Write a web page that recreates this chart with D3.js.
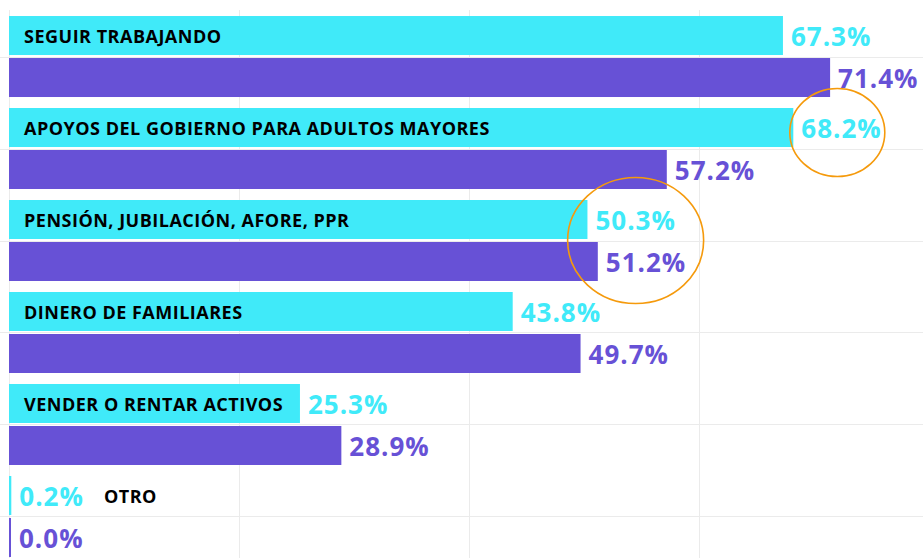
<!DOCTYPE html>
<html>
<head>
<meta charset="utf-8">
<script src="https://cdn.jsdelivr.net/npm/d3@7"></script>
<style>
  body { margin: 0; background: #fff; }
  svg { display: block; font-family: "Open Sans", "Noto Sans", sans-serif; }
</style>
</head>
<body>
<div id="chart"></div>
<script>
// data
var categories = [
    "SEGUIR TRABAJANDO",
    "APOYOS DEL GOBIERNO PARA ADULTOS MAYORES",
    "PENSIÓN, JUBILACIÓN, AFORE, PPR",
    "DINERO DE FAMILIARES",
    "VENDER O RENTAR ACTIVOS",
    "OTRO"
];
var seriesA = [67.3, 68.2, 50.3, 43.8, 25.3, 0.2];   // cyan
var seriesB = [71.4, 57.2, 51.2, 49.7, 28.9, 0.0];   // purple
var gridTicks = [0, 20, 40, 60, 80];
// categories whose value labels got circled
var circled = [
    { cat: "APOYOS DEL GOBIERNO PARA ADULTOS MAYORES", both: false },
    { cat: "PENSIÓN, JUBILACIÓN, AFORE, PPR", both: true }
];

var width = 923, height = 558;
var colA = "#40eaf9", colB = "#6751d6";

var svg = d3.select("#chart").append("svg")
    .attr("width", width).attr("height", height);

var x = d3.scaleLinear().domain([0, 80]).range([9, 929]);
var y0 = d3.scaleBand().domain(categories).range([10.5, 562.5])
    .paddingInner(0.1196).paddingOuter(0.06);
var y1 = d3.scaleBand().domain(["a", "b"]).range([0, y0.bandwidth()]).paddingInner(0.0714);

// grid
svg.selectAll("line.vgrid").data(gridTicks).enter().append("line")
    .attr("class", "vgrid")
    .attr("x1", function (d) { return Math.round(x(d)) + 0.5; })
    .attr("x2", function (d) { return Math.round(x(d)) + 0.5; })
    .attr("y1", 10).attr("y2", height)
    .attr("stroke", "#ebebeb").attr("stroke-width", 1);
svg.selectAll("line.hgrid").data(categories).enter().append("line")
    .attr("class", "hgrid")
    .attr("x1", 0).attr("x2", width)
    .attr("y1", function (d) { return Math.round(y0(d) + y0.bandwidth() / 2) + 0.5; })
    .attr("y2", function (d) { return Math.round(y0(d) + y0.bandwidth() / 2) + 0.5; })
    .attr("stroke", "#ebebeb").attr("stroke-width", 1);

var rows = categories.map(function (c, i) {
    return { cat: c, a: seriesA[i], b: seriesB[i] };
});

var g = svg.selectAll("g.row").data(rows).enter().append("g")
    .attr("class", "row")
    .attr("transform", function (d) { return "translate(0," + y0(d.cat) + ")"; });

function barW(v) { return Math.max(2, x(v) - x(0)); }
function fmt(v) { return v.toFixed(1) + "%"; }

g.append("rect")
    .attr("x", x(0)).attr("y", y1("a"))
    .attr("width", function (d) { return barW(d.a); })
    .attr("height", y1.bandwidth()).attr("fill", colA);
g.append("rect")
    .attr("x", x(0)).attr("y", y1("b"))
    .attr("width", function (d) { return barW(d.b); })
    .attr("height", y1.bandwidth()).attr("fill", colB);

var valA = g.append("text")
    .attr("x", function (d) { return x(0) + barW(d.a) + 8; })
    .attr("y", y1("a") + y1.bandwidth() / 2 + 1)
    .attr("dy", "0.36em")
    .attr("font-size", 26).attr("font-weight", 700).attr("letter-spacing", 1)
    .attr("fill", colA)
    .text(function (d) { return fmt(d.a); });
g.append("text")
    .attr("x", function (d) { return x(0) + barW(d.b) + 8; })
    .attr("y", y1("b") + y1.bandwidth() / 2 + 1)
    .attr("dy", "0.36em")
    .attr("font-size", 26).attr("font-weight", 700).attr("letter-spacing", 1)
    .attr("fill", colB)
    .text(function (d) { return fmt(d.b); });

// category labels: inside the cyan bar, or after its value label when the bar is too short
g.append("text")
    .attr("y", y1("a") + y1.bandwidth() / 2 + 1)
    .attr("dy", "0.36em")
    .attr("font-size", 18).attr("font-weight", 700).attr("letter-spacing", 0.5)
    .attr("fill", "#000")
    .text(function (d) { return d.cat; })
    .attr("x", function (d, i) {
        var w = this.getComputedTextLength();
        if (w + 30 < barW(d.a)) return 24;
        var vb = valA.nodes()[i].getBBox();
        return vb.x + vb.width + 20;
    });

// orange annotation circles
circled.forEach(function (c) {
    var i = categories.indexOf(c.cat);
    var xa = x(seriesA[i]), xb = x(seriesB[i]);
    var cx, cy, rx, ry;
    if (c.both) {
        cx = (Math.min(xa, xb) + Math.max(xa, xb)) / 2 + 43;
        cy = y0(c.cat) + y0.bandwidth() / 2;
        rx = 68; ry = 63;
    } else {
        cx = xa + 44;
        cy = y0(c.cat) + y1("a") + y1.bandwidth() / 2 + 5;
        rx = 47.5; ry = 44;
    }
    svg.append("ellipse")
        .attr("cx", cx).attr("cy", cy).attr("rx", rx).attr("ry", ry)
        .attr("fill", "none").attr("stroke", "#f59a0c").attr("stroke-width", 1.6);
});
</script>
</body>
</html>
